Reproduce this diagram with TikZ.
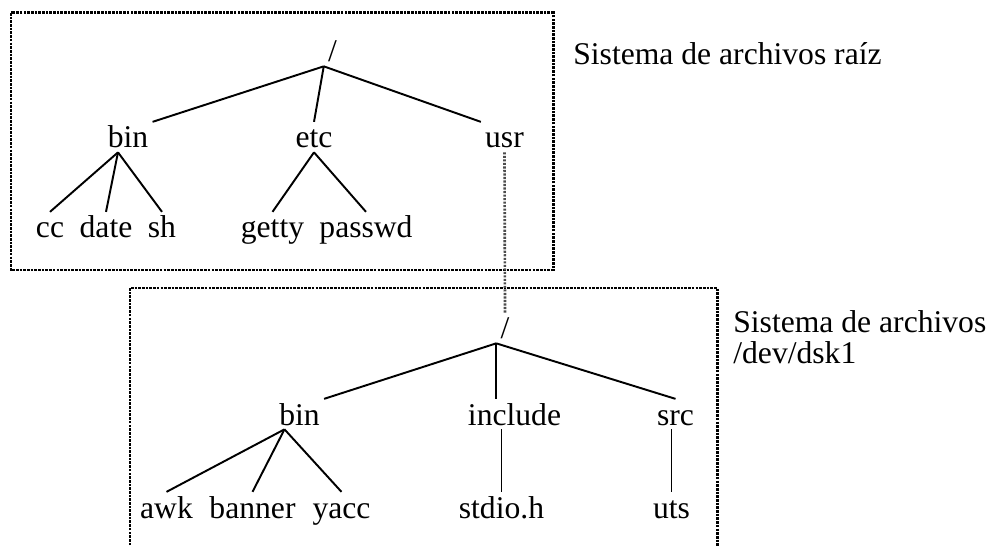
\documentclass[tikz,border=0pt]{standalone}
\usepackage{fontspec}
\setmainfont{Liberation Serif}

\begin{document}
\begin{tikzpicture}
[x=0.02cm,y=-0.02cm,
  dirText/.style={font=\fontsize{18}{21}\selectfont,anchor=base,inner sep=0.08cm,text height=12.4pt,text depth=0pt},%
  branchLine/.style={-,line width=1.1pt},
  frameDecorate/.style={line width=1.7pt,dash pattern=on 1.5pt off 0.6pt},
  mountLine/.style={line width=1.5pt,black!70,dash pattern=on 1.2pt off 0.8pt}]
\useasboundingbox (0,0) rectangle (989,546);
\clip (0,0) rectangle (989,546);
%% frames
\draw[frameDecorate] (11,13) rectangle (553,270);
\draw[frameDecorate] (130,560) |- (717,288) -- (717,560);
%% root file system
\node[dirText] (rootA) at (332.5,62) {/};
\foreach \nodename/\x/\y/\name in {binA/128/148/bin, etcA/314/148/etc, usrA/504.5/148/usr,
    ccA/50/238/cc, dateA/106/238/date, shA/162/238/sh, gettyA/272.5/238/getty, passwdA/366/238/passwd} {
  \node[dirText] (\nodename) at (\x,\y) {\name};
}
%% mounted file system
\node[dirText] (rootB) at (505,339) {/};
\foreach \nodename/\x/\y/\name in {binB/299.5/425/bin, includeB/514.5/425/include, srcB/675.5/425/src,
    awkB/166.5/518/awk, bannerB/252.5/518/banner, yaccB/341.5/518/yacc, stdioB/501.5/518/stdio.h, utsB/671.5/518/uts} {
  \node[dirText] (\nodename) at (\x,\y) {\name};
}
%% labels
\node[font=\fontsize{18}{21}\selectfont,anchor=base west,inner sep=0pt] (labelA) at (573,65) {Sistema de archivos raíz};
\node[font=\fontsize{18}{17.5}\selectfont,anchor=north west,align=left,inner sep=0pt] (labelB) at (733,310) {Sistema de archivos\\/dev/dsk1};
%% branches
\coordinate (binAfork) at ([xshift=-0.2cm]binA.south);
\coordinate (binBfork) at ([xshift=-0.3cm]binB.south);
\path
\foreach \startnode/\endnode in {rootA.south west/binA.north east, rootA.south west/etcA.north, rootA.south west/usrA.north west,
    binAfork/ccA.north, binAfork/dateA.north, binAfork/shA.north, etcA.south/gettyA.north, etcA.south/passwdA.north,
    rootB.south west/binB.north east, rootB.south west/srcB.north,
    binBfork/awkB.north, binBfork/bannerB.north, binBfork/yaccB.north} {
  (\startnode) edge[branchLine] (\endnode)
};
\draw[branchLine] (rootB.south west) -- (rootB.south west |- includeB.north);
\draw[branchLine] (stdioB.north |- includeB.south) -- (stdioB.north);
\draw[branchLine] (utsB.north |- srcB.south) -- (utsB.north);
%% mount point
\draw[mountLine] (usrA.south) -- (rootB.north);
\end{tikzpicture}
\end{document}
